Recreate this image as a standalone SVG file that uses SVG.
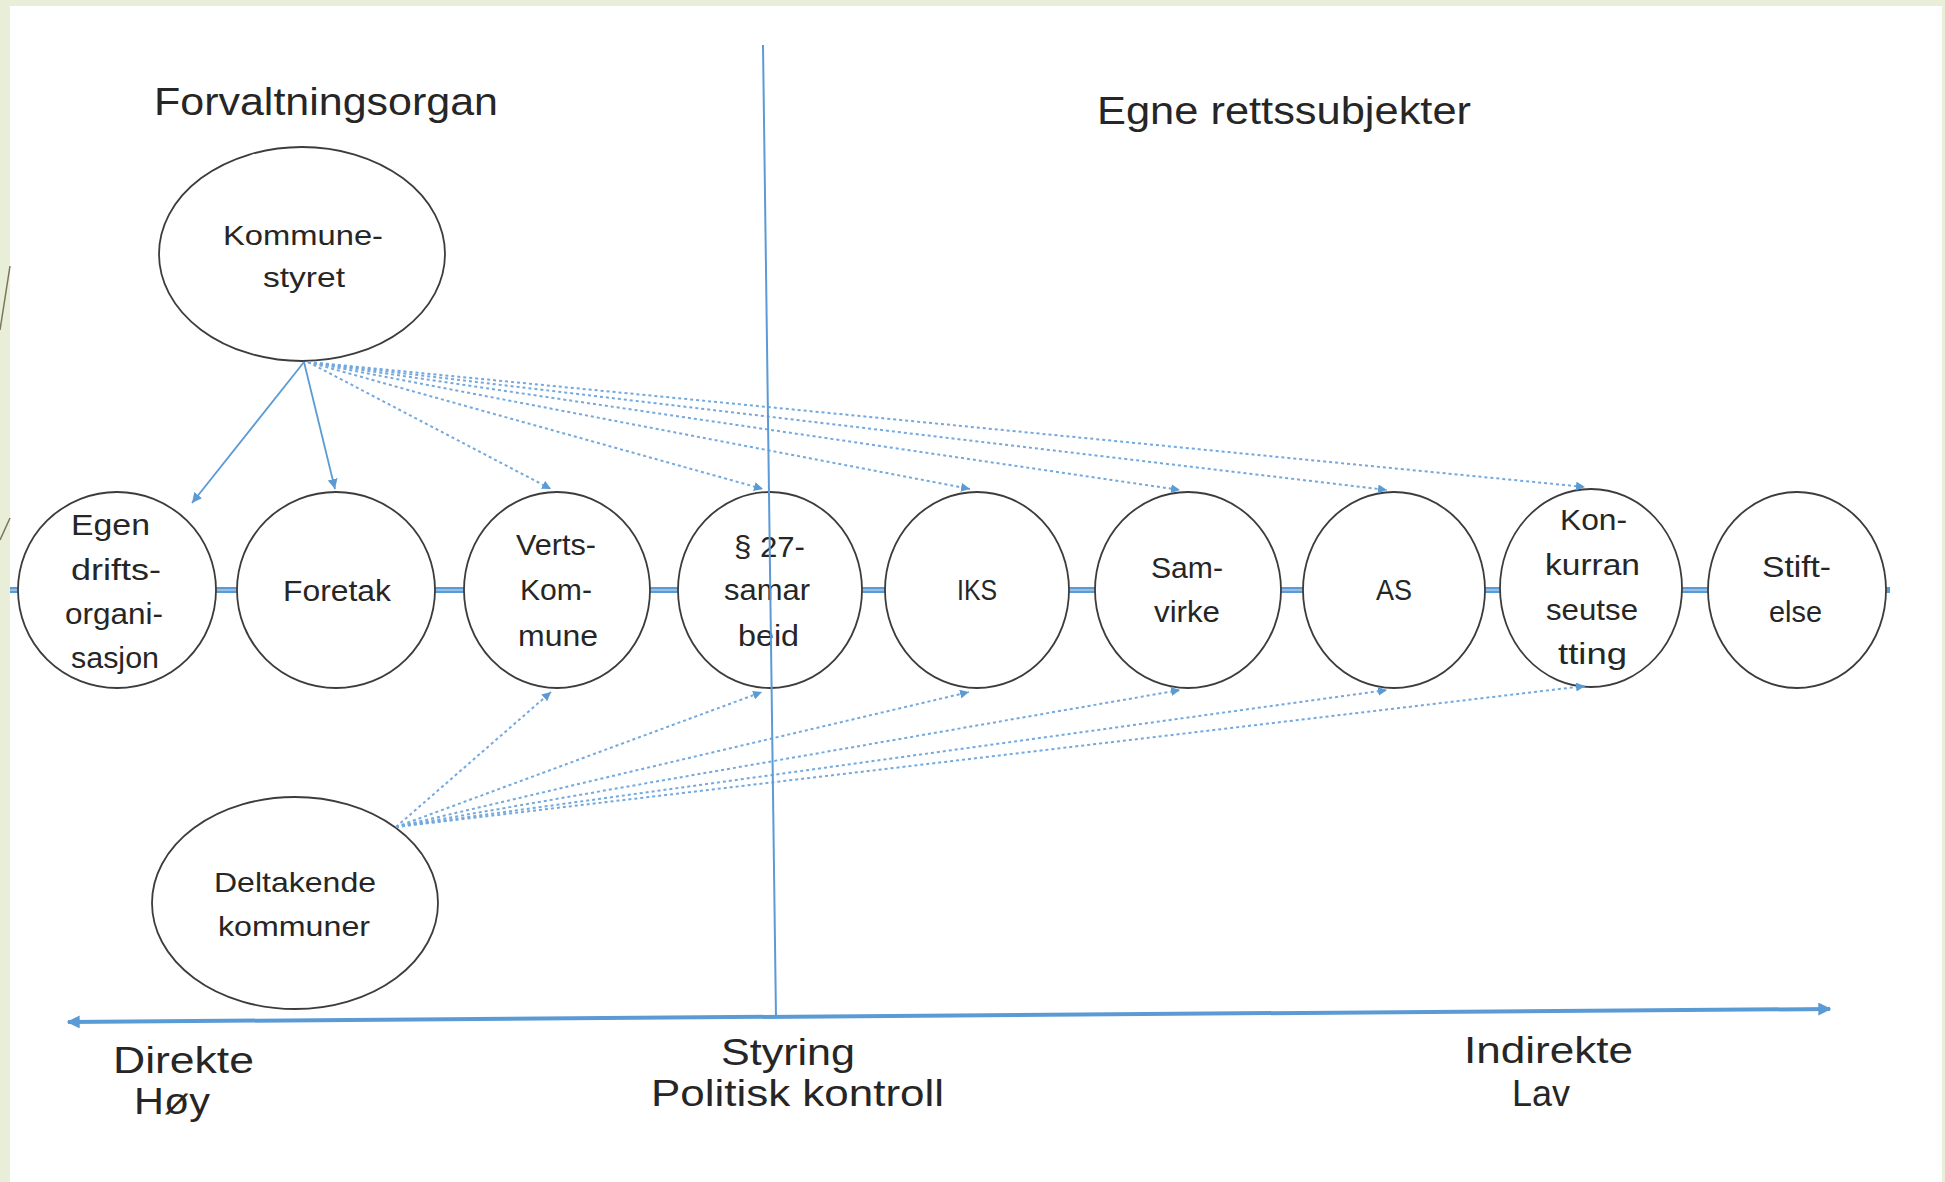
<svg xmlns="http://www.w3.org/2000/svg" width="1945" height="1182" viewBox="0 0 1945 1182">
<defs>
<style>
.t{font-family:"Liberation Sans","DejaVu Sans",sans-serif;fill:#262626}
.n{font-size:30px}
.s{font-size:28px}
.h{font-size:38px}
.b{font-size:36px}
.node{fill:#ffffff;stroke:#3c3c3c;stroke-width:1.8}
.solid{stroke:#5b9bd5;stroke-width:1.8;fill:none}
.dash{stroke:#73a9de;stroke-width:2;stroke-dasharray:3 3;fill:none}
.axis{stroke:#5b9bd5;stroke-width:4;fill:none}
</style>
<marker id="ah" viewBox="0 0 10 10" refX="10" refY="5" markerWidth="10" markerHeight="10" markerUnits="userSpaceOnUse" orient="auto"><path d="M0,0 L10,5 L0,10 z" fill="#5b9bd5"/></marker>
<marker id="ahd" viewBox="0 0 10 10" refX="10" refY="5" markerWidth="9" markerHeight="9" markerUnits="userSpaceOnUse" orient="auto"><path d="M0,0 L10,5 L0,10 z" fill="#5b9bd5"/></marker>
<marker id="ahb" viewBox="0 0 10 10" refX="9" refY="5" markerWidth="13" markerHeight="13" markerUnits="userSpaceOnUse" orient="auto-start-reverse"><path d="M0,0 L10,5 L0,10 z" fill="#5b9bd5"/></marker>
</defs>
<rect x="0" y="0" width="1945" height="1182" fill="#e8eed7"/>
<rect x="10" y="6" width="1932" height="1176" fill="#ffffff"/>
<line x1="0" y1="330" x2="10" y2="266" stroke="#7d7458" stroke-width="1.5"/>
<line x1="0" y1="540" x2="10" y2="518" stroke="#7d7458" stroke-width="1.5"/>

<g id="axis-middle">
<line x1="10" y1="590" x2="1890" y2="590" stroke="#5b9bd5" stroke-width="6" marker-end="url(#ah)"/>
<line x1="10" y1="590" x2="1880" y2="590" stroke="#a8c8ea" stroke-width="1.5"/>
</g>

<g id="headings">
<text class="t h" x="154" y="115" textLength="344" lengthAdjust="spacingAndGlyphs">Forvaltningsorgan</text>
<text class="t h" x="1097" y="124" textLength="374" lengthAdjust="spacingAndGlyphs">Egne rettssubjekter</text>
</g>

<g id="kommunestyret">
<ellipse class="node" cx="302" cy="254" rx="143" ry="107"/>
<text class="t s" x="223" y="245" textLength="160" lengthAdjust="spacingAndGlyphs">Kommune-</text>
<text class="t s" x="263" y="287" textLength="82" lengthAdjust="spacingAndGlyphs">styret</text>
</g>

<g id="deltakende">
<ellipse class="node" cx="295" cy="903" rx="143" ry="106"/>
<text class="t s" x="214" y="892" textLength="162" lengthAdjust="spacingAndGlyphs">Deltakende</text>
<text class="t s" x="218" y="936" textLength="152" lengthAdjust="spacingAndGlyphs">kommuner</text>
</g>

<g id="egen">
<ellipse class="node" cx="117" cy="590" rx="99" ry="98"/>
<text class="t n" x="71" y="535" textLength="79" lengthAdjust="spacingAndGlyphs">Egen</text>
<text class="t n" x="71" y="580" textLength="90" lengthAdjust="spacingAndGlyphs">drifts-</text>
<text class="t n" x="65" y="624" textLength="98" lengthAdjust="spacingAndGlyphs">organi-</text>
<text class="t n" x="71" y="668" textLength="88" lengthAdjust="spacingAndGlyphs">sasjon</text>
</g>

<g id="foretak">
<ellipse class="node" cx="336" cy="590" rx="99" ry="98"/>
<text class="t n" x="283" y="601" textLength="108" lengthAdjust="spacingAndGlyphs">Foretak</text>
</g>

<g id="vertskommune">
<ellipse class="node" cx="557" cy="590" rx="93" ry="98"/>
<text class="t n" x="516" y="555" textLength="80" lengthAdjust="spacingAndGlyphs">Verts-</text>
<text class="t n" x="520" y="600" textLength="72" lengthAdjust="spacingAndGlyphs">Kom-</text>
<text class="t n" x="518" y="646" textLength="80" lengthAdjust="spacingAndGlyphs">mune</text>
</g>

<g id="p27">
<ellipse class="node" cx="770" cy="590" rx="92" ry="98"/>
<text class="t n" x="734" y="557" textLength="71" lengthAdjust="spacingAndGlyphs">§ 27-</text>
<text class="t n" x="724" y="600" textLength="86" lengthAdjust="spacingAndGlyphs">samar</text>
<text class="t n" x="738" y="646" textLength="61" lengthAdjust="spacingAndGlyphs">beid</text>
</g>

<g id="iks">
<ellipse class="node" cx="977" cy="590" rx="92" ry="98"/>
<text class="t n" x="957" y="600" textLength="40" lengthAdjust="spacingAndGlyphs">IKS</text>
</g>

<g id="samvirke">
<ellipse class="node" cx="1188" cy="590" rx="93" ry="98"/>
<text class="t n" x="1151" y="578" textLength="72" lengthAdjust="spacingAndGlyphs">Sam-</text>
<text class="t n" x="1154" y="622" textLength="66" lengthAdjust="spacingAndGlyphs">virke</text>
</g>

<g id="as">
<ellipse class="node" cx="1394" cy="590" rx="91" ry="98"/>
<text class="t n" x="1376" y="600" textLength="36" lengthAdjust="spacingAndGlyphs">AS</text>
</g>

<g id="konkurranseutsetting">
<ellipse class="node" cx="1591" cy="588" rx="91" ry="99"/>
<text class="t n" x="1560" y="530" textLength="67" lengthAdjust="spacingAndGlyphs">Kon-</text>
<text class="t n" x="1545" y="575" textLength="95" lengthAdjust="spacingAndGlyphs">kurran</text>
<text class="t n" x="1546" y="620" textLength="92" lengthAdjust="spacingAndGlyphs">seutse</text>
<text class="t n" x="1558" y="664" textLength="69" lengthAdjust="spacingAndGlyphs">tting</text>
</g>

<g id="stiftelse">
<ellipse class="node" cx="1797" cy="590" rx="89" ry="98"/>
<text class="t n" x="1762" y="577" textLength="69" lengthAdjust="spacingAndGlyphs">Stift-</text>
<text class="t n" x="1769" y="622" textLength="53" lengthAdjust="spacingAndGlyphs">else</text>
</g>

<g id="connectors">
<line class="solid" x1="304" y1="362" x2="192" y2="503" marker-end="url(#ah)"/>
<line class="solid" x1="304" y1="362" x2="335" y2="489" marker-end="url(#ah)"/>
<line class="dash" x1="308" y1="362" x2="551" y2="489" marker-end="url(#ahd)"/>
<line class="dash" x1="308" y1="362" x2="763" y2="489" marker-end="url(#ahd)"/>
<line class="dash" x1="308" y1="362" x2="970" y2="489" marker-end="url(#ahd)"/>
<line class="dash" x1="308" y1="362" x2="1180" y2="490" marker-end="url(#ahd)"/>
<line class="dash" x1="308" y1="362" x2="1387" y2="490" marker-end="url(#ahd)"/>
<line class="dash" x1="308" y1="362" x2="1585" y2="487" marker-end="url(#ahd)"/>
<line class="dash" x1="396" y1="827" x2="551" y2="692" marker-end="url(#ahd)"/>
<line class="dash" x1="396" y1="827" x2="762" y2="692" marker-end="url(#ahd)"/>
<line class="dash" x1="396" y1="827" x2="969" y2="692" marker-end="url(#ahd)"/>
<line class="dash" x1="396" y1="827" x2="1180" y2="690" marker-end="url(#ahd)"/>
<line class="dash" x1="396" y1="827" x2="1387" y2="690" marker-end="url(#ahd)"/>
<line class="dash" x1="396" y1="827" x2="1585" y2="686" marker-end="url(#ahd)"/>
<line x1="763" y1="45" x2="776" y2="1018" stroke="#5b9bd5" stroke-width="2"/>
<line class="axis" x1="68" y1="1022" x2="1830" y2="1009" marker-start="url(#ahb)" marker-end="url(#ahb)"/>
</g>

<g id="axis-labels">
<text class="t b" x="113" y="1073" textLength="141" lengthAdjust="spacingAndGlyphs">Direkte</text>
<text class="t b" x="134" y="1114" textLength="76" lengthAdjust="spacingAndGlyphs">Høy</text>
<text class="t b" x="721" y="1065" textLength="134" lengthAdjust="spacingAndGlyphs">Styring</text>
<text class="t b" x="651" y="1106" textLength="293" lengthAdjust="spacingAndGlyphs">Politisk kontroll</text>
<text class="t b" x="1464" y="1063" textLength="169" lengthAdjust="spacingAndGlyphs">Indirekte</text>
<text class="t b" x="1512" y="1106" textLength="58" lengthAdjust="spacingAndGlyphs">Lav</text>
</g>
</svg>
